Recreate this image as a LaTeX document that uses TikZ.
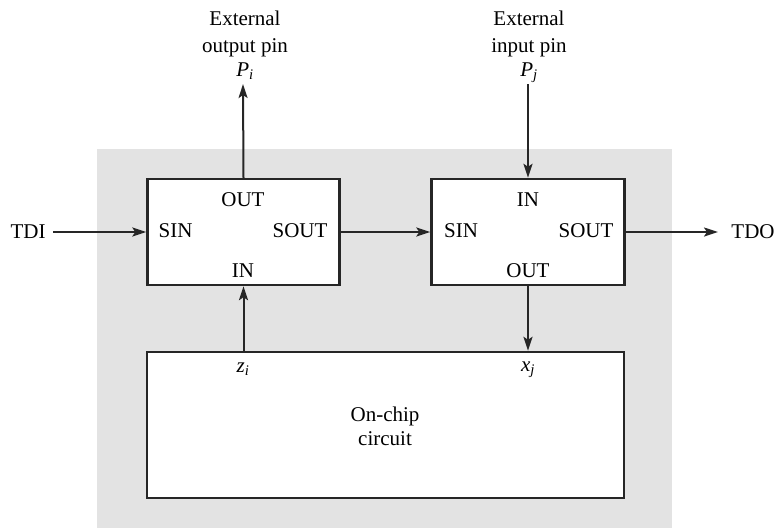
\documentclass[tikz,border=0pt]{standalone}
\usepackage{fontspec}
\setmainfont{Liberation Serif}
\usetikzlibrary{arrows.meta}
\begin{document}
\begin{tikzpicture}[x=1pt,y=-1pt,
  font=\fontsize{21}{24}\selectfont,
  blk/.style={draw=black!85,line width=2.4pt,fill=white,inner sep=0pt},
  tip/.style={-{Stealth[length=14pt,width=9pt,inset=3pt]}},
  conn/.style={line width=2pt,black!85,tip},
  lbl/.style={inner sep=0pt,anchor=base}]
\useasboundingbox (0,0) rectangle (782,531);
\fill[gray!22] (97,149) rectangle (672,528);
% boxes
\node[blk,minimum width=192pt,minimum height=106pt] (L) at (243.5,232) {};
\node[blk,minimum width=193pt,minimum height=106pt] (R) at (528,232) {};
\node[blk,minimum width=477pt,minimum height=146pt] (C) at (385.5,425) {};
% labels in left box
\node[lbl] (Lout) at (243,206) {OUT};
\node[lbl] (Lsin) at (175.5,237) {SIN};
\node[lbl] (Lsout) at (300,237) {SOUT};
\node[lbl] (Lin) at (243,277) {IN};
% labels in right box
\node[lbl] (Rin) at (528,206) {IN};
\node[lbl] (Rsin) at (461,237) {SIN};
\node[lbl] (Rsout) at (586,237) {SOUT};
\node[lbl] (Rout) at (528,277) {OUT};
% circuit labels
\node[lbl] (zi) at (243,372) {\textit{z}\textsubscript{\textit{i}}};
\node[lbl] (xj) at (528,371) {\textit{x}\textsubscript{\textit{j}}};
\node[lbl] (oc1) at (385,421) {On-chip};
\node[lbl] (oc2) at (385,445) {circuit};
% external pins
\node[lbl] (Pi1) at (245,25) {External};
\node[lbl] (Pi2) at (245,52) {output pin};
\node[lbl] (Pi3) at (245,76) {\textit{P}\textsubscript{\textit{i}}};
\node[lbl] (Pj1) at (529,25) {External};
\node[lbl] (Pj2) at (529,52) {input pin};
\node[lbl] (Pj3) at (529,76) {\textit{P}\textsubscript{\textit{j}}};
\coordinate (PiEnd) at (243,84);
\coordinate (PjStart) at (528,84);
% TDI / TDO
\node[lbl] (tdi) at (28,238) {TDI};
\node[lbl] (tdo) at (753,238) {TDO};
\coordinate (tdiE) at (53,232);
\coordinate (tdoS) at (718,232);
% connectors
\draw[conn] (tdiE) -- (L.west |- tdiE);
\draw[conn] (L.east |- tdiE) -- (R.west |- tdiE);
\draw[conn] (R.east |- tdiE) -- (tdoS);
\draw[conn] (L.north) -- (PiEnd);
\draw[conn] (PjStart) -- (R.north);
\draw[conn] (C.north -| L.south) -- (L.south);
\draw[conn] (R.south) -- (C.north -| R.south);
\end{tikzpicture}
\end{document}
